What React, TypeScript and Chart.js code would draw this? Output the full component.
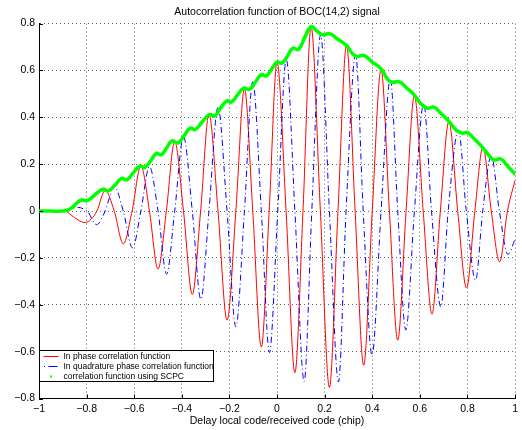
import React, { useEffect, useRef } from 'react';
import { Chart, registerables } from 'chart.js';

Chart.register(...registerables);

const chartTitle = 'Autocorrelation function of BOC(14,2) signal';
const xAxisTitle = 'Delay local code/received code (chip)';
const seriesNames = [
  'In phase correlation function',
  'In quadrature phase correlation function',
  'correlation function using SCPC',
];
const xTickLabels = ['−1', '−0.8', '−0.6', '−0.4', '−0.2', '0', '0.2', '0.4', '0.6', '0.8', '1'];
const yTickLabels = ['−0.8', '−0.6', '−0.4', '−0.2', '0', '0.2', '0.4', '0.6', '0.8'];

// In phase correlation function (red)
const inPhaseX = [
  -1, -0.95, -0.89, -0.865, -0.836, -0.807, -0.78, -0.757, -0.722, -0.684,
  -0.646, -0.609, -0.572, -0.536, -0.5, -0.465, -0.43, -0.393, -0.356, -0.321,
  -0.286, -0.248, -0.21, -0.173, -0.137, -0.102, -0.066, -0.033, 0, 0.038,
  0.075, 0.109, 0.143, 0.182, 0.22, 0.256, 0.292, 0.328, 0.364, 0.4,
  0.437, 0.472, 0.507, 0.542, 0.577, 0.614, 0.651, 0.686, 0.722, 0.759,
  0.796, 0.831, 0.865, 0.9, 0.935, 0.968, 1,
];
const inPhaseY = [
  0, 0, 0, -0.017, -0.038, -0.049, -0.034, 0, 0.088, 0,
  -0.14, 0, 0.193, 0, -0.248, 0, 0.298, 0, -0.356, 0,
  0.413, 0, -0.466, 0, 0.522, 0, -0.58, 0, 0.636, 0,
  -0.69, 0, 0.787, 0, -0.753, 0, 0.707, 0, -0.658, 0,
  0.605, 0, -0.551, 0, 0.493, 0, -0.44, 0, 0.382, 0,
  -0.328, 0, 0.272, 0, -0.217, 0, 0.132,
];

// In quadrature phase correlation function (blue)
const quadX = [
  -1, -0.95, -0.89, -0.862, -0.836, -0.815, -0.797, -0.758, -0.722, -0.684,
  -0.646, -0.607, -0.572, -0.536, -0.5, -0.464, -0.43, -0.393, -0.356, -0.32,
  -0.286, -0.248, -0.21, -0.173, -0.137, -0.102, -0.066, -0.032, 0.003, 0.039,
  0.075, 0.114, 0.146, 0.183, 0.22, 0.258, 0.29, 0.33, 0.362, 0.399,
  0.437, 0.476, 0.507, 0.541, 0.577, 0.616, 0.649, 0.688, 0.719, 0.762,
  0.795, 0.834, 0.864, 0.9, 0.934, 0.97, 1,
];
const quadY = [
  0, 0, 0, 0.01, 0.016, 0.01, 0, -0.058, 0, 0.105,
  0, -0.157, 0, 0.19, 0, -0.269, 0, 0.318, 0, -0.377,
  0, 0.443, 0, -0.494, 0, 0.552, 0, -0.604, 0, 0.648,
  0, -0.727, 0, 0.752, 0, -0.729, 0, 0.668, 0, -0.615,
  0, 0.565, 0, -0.508, 0, 0.458, 0, -0.409, 0, 0.345,
  0, -0.295, 0, 0.236, 0, -0.185, -0.12,
];

// Correlation function using SCPC (green)
const scpcX = [
  -1, -0.95, -0.9, -0.88, -0.86, -0.84, -0.82, -0.8, -0.78, -0.755,
  -0.73, -0.709, -0.68, -0.653, -0.632, -0.605, -0.577, -0.556, -0.53, -0.507,
  -0.486, -0.465, -0.442, -0.416, -0.39, -0.365, -0.344, -0.315, -0.284, -0.262,
  -0.238, -0.212, -0.192, -0.166, -0.14, -0.115, -0.09, -0.067, -0.045, -0.022,
  0, 0.02, 0.044, 0.066, 0.09, 0.117, 0.143, 0.168, 0.192, 0.22,
  0.255, 0.291, 0.315, 0.336, 0.364, 0.4, 0.437, 0.462, 0.482, 0.512,
  0.545, 0.577, 0.607, 0.632, 0.66, 0.692, 0.722, 0.752, 0.779, 0.8,
  0.832, 0.863, 0.893, 0.912, 0.94, 0.97, 1,
];
const scpcY = [
  0, 0, 0, 0.004, 0.016, 0.035, 0.047, 0.044, 0.056, 0.078,
  0.093, 0.086, 0.112, 0.14, 0.133, 0.162, 0.192, 0.186, 0.216, 0.246,
  0.24, 0.268, 0.299, 0.291, 0.322, 0.354, 0.348, 0.38, 0.412, 0.406,
  0.438, 0.47, 0.465, 0.496, 0.525, 0.52, 0.552, 0.582, 0.577, 0.607,
  0.636, 0.631, 0.662, 0.695, 0.69, 0.742, 0.787, 0.768, 0.752, 0.757,
  0.733, 0.708, 0.674, 0.66, 0.664, 0.636, 0.607, 0.566, 0.549, 0.552,
  0.525, 0.495, 0.455, 0.439, 0.443, 0.413, 0.383, 0.346, 0.332, 0.335,
  0.304, 0.272, 0.234, 0.218, 0.222, 0.19, 0.158,
];

const FONT = '"Liberation Sans", Arial, Helvetica, sans-serif';

const zip = (xs: number[], ys: number[]) => xs.map((x, i) => ({ x, y: ys[i] }));

const decorPlugin = {
  id: 'matlabDecor',
  afterDraw(chart: any) {
    const { ctx, chartArea: a, scales } = chart;
    const xs = scales.x;
    const ys = scales.y;
    ctx.save();
    // inward tick marks
    ctx.strokeStyle = '#000';
    ctx.lineWidth = 1;
    ctx.setLineDash([]);
    ctx.beginPath();
    xs.ticks.forEach((t: any) => {
      const px = Math.round(xs.getPixelForValue(t.value)) + 0.5;
      ctx.moveTo(px, a.bottom);
      ctx.lineTo(px, a.bottom - 4);
    });
    ys.ticks.forEach((t: any) => {
      const py = Math.round(ys.getPixelForValue(t.value)) + 0.5;
      ctx.moveTo(a.left, py);
      ctx.lineTo(a.left + 4, py);
    });
    ctx.stroke();

    // legend box
    const lx = Math.round(a.left) + 0.5;
    const ly = Math.round(a.bottom - 49) + 0.5;
    const lw = 174;
    const lh = 31;
    ctx.fillStyle = '#fff';
    ctx.fillRect(lx, ly, lw, lh);
    ctx.strokeStyle = '#000';
    ctx.strokeRect(lx, ly, lw, lh);
    ctx.font = `8.5px ${FONT}`;
    ctx.textBaseline = 'middle';
    ctx.textAlign = 'left';
    const ds = chart.data.datasets;
    seriesNames.forEach((name, i) => {
      const cy = ly + 6 + i * 10;
      const d = ds[i];
      ctx.strokeStyle = d.borderColor;
      ctx.lineWidth = 1;
      if (i === 0) {
        ctx.beginPath();
        ctx.moveTo(lx + 4, cy);
        ctx.lineTo(lx + 19, cy);
        ctx.stroke();
      } else if (i === 1) {
        ctx.beginPath();
        ctx.moveTo(lx + 4.5, cy);
        ctx.lineTo(lx + 5.5, cy);
        ctx.moveTo(lx + 9, cy);
        ctx.lineTo(lx + 18, cy);
        ctx.stroke();
      } else {
        ctx.fillStyle = d.borderColor;
        ctx.fillRect(lx + 10.5, cy - 1, 2, 2);
      }
      ctx.fillStyle = '#000';
      ctx.fillText(name, lx + 24, cy + 0.5);
    });
    ctx.restore();
  },
};

export default function App() {
  const ref = useRef<HTMLCanvasElement | null>(null);

  useEffect(() => {
    if (!ref.current) return;
    const chart = new Chart(ref.current, {
      type: 'line',
      data: {
        datasets: [
          {
            label: seriesNames[0],
            data: zip(inPhaseX, inPhaseY),
            borderColor: 'rgb(255,0,0)',
            borderWidth: 1,
            pointRadius: 0,
            fill: false,
            cubicInterpolationMode: 'monotone',
            order: 3,
          },
          {
            label: seriesNames[1],
            data: zip(quadX, quadY),
            borderColor: 'rgb(0,0,255)',
            borderWidth: 1,
            borderDash: [6, 3, 1, 3],
            pointRadius: 0,
            fill: false,
            cubicInterpolationMode: 'monotone',
            order: 2,
          },
          {
            label: seriesNames[2],
            data: zip(scpcX, scpcY),
            borderColor: 'rgb(0,255,0)',
            borderWidth: 3.5,
            borderJoinStyle: 'round',
            borderCapStyle: 'round',
            pointRadius: 0,
            fill: false,
            tension: 0.45,
            order: 1,
          },
        ],
      } as any,
      options: {
        animation: false,
        responsive: false,
        devicePixelRatio: 1,
        layout: { padding: { left: 0, right: 6, top: 0, bottom: 0 } },
        plugins: {
          legend: { display: false },
          tooltip: { enabled: false },
          title: {
            display: true,
            text: chartTitle,
            fullSize: false,
            color: '#000',
            font: { family: FONT, size: 10.5, weight: 'normal' },
            padding: { top: 6, bottom: 5 },
          },
        },
        scales: {
          x: {
            type: 'linear',
            min: -1,
            max: 1,
            ticks: {
              stepSize: 0.2,
              autoSkip: false,
              maxRotation: 0,
              color: '#000',
              padding: 4,
              font: { family: FONT, size: 10.5 },
              callback: (_v: any, i: number) => xTickLabels[i],
            },
            grid: { color: '#666', lineWidth: 1, drawTicks: false },
            border: { display: true, color: '#000', width: 1, dash: [1, 3] },
            title: {
              display: true,
              text: xAxisTitle,
              color: '#000',
              font: { family: FONT, size: 10.5 },
              padding: { top: 0, bottom: 3 },
            },
            afterFit: (s: any) => {
              s.height = 31.5;
            },
          },
          y: {
            type: 'linear',
            min: -0.8,
            max: 0.8,
            ticks: {
              stepSize: 0.2,
              autoSkip: false,
              color: '#000',
              padding: 4,
              font: { family: FONT, size: 10.5 },
              callback: (_v: any, i: number) => yTickLabels[i],
            },
            grid: { color: '#666', lineWidth: 1, drawTicks: false },
            border: { display: true, color: '#000', width: 1, dash: [1, 3] },
            afterFit: (s: any) => {
              s.width = 39;
            },
          },
        },
      } as any,
      plugins: [decorPlugin],
    });
    return () => chart.destroy();
  }, []);

  return (
    <div style={{ position: 'fixed', left: 0, top: 0, width: 522, height: 430, background: '#fff' }}>
      <canvas ref={ref} width={522} height={430} style={{ display: 'block' }} />
    </div>
  );
}
